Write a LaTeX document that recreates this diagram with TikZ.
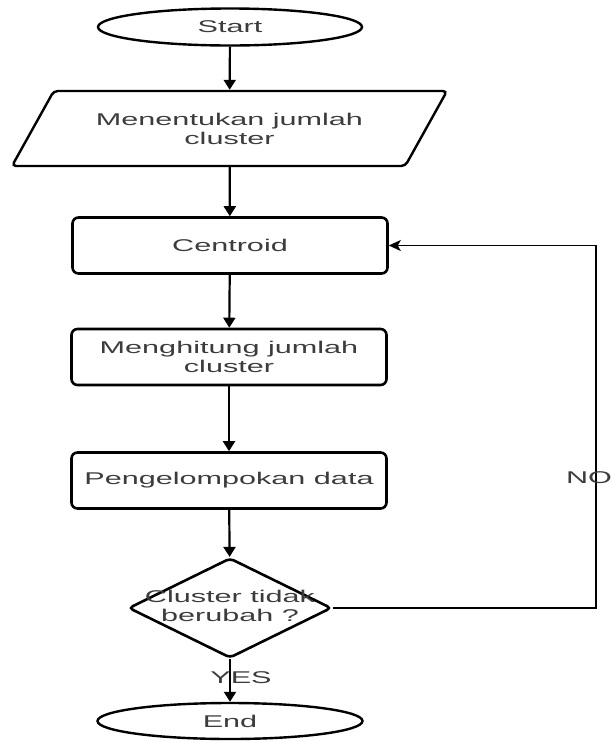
\documentclass[tikz,border=0pt]{standalone}
\usepackage{fontspec}
\newfontfamily\flowfont[FakeStretch=1.8]{Liberation Sans}
\usetikzlibrary{shapes.geometric,arrows.meta}
\definecolor{txtgray}{HTML}{3C3C3C}
\begin{document}
\begin{tikzpicture}[x=1pt,y=-1pt,
  every node/.style={font=\flowfont\fontsize{17}{19}\selectfont, text=txtgray, align=center},
  term/.style={ellipse, draw, line width=2.4pt, minimum width=264, minimum height=37, inner sep=0pt},
  inbox/.style={trapezium, trapezium left angle=37, trapezium right angle=143, trapezium stretches body,
    draw, line width=2.4pt, rounded corners=4pt, minimum width=435, minimum height=75, inner sep=0pt},
  procbox/.style={rectangle, draw, line width=2.6pt, rounded corners=6pt, minimum width=315, minimum height=56, inner sep=0pt},
  decision/.style={diamond, draw, line width=2.6pt, rounded corners=4pt, minimum width=203, minimum height=100, inner sep=0pt},
  arr/.style={-{Triangle[length=10pt,width=12pt]}, line width=2.2pt},
  back/.style={-{Stealth[length=12pt,width=11pt,inset=3pt]}, line width=1.4pt}]
\useasboundingbox (0,0) rectangle (613,742);
\node[term] (start) at (230,27){Start};
\node[inbox] (jumlah) at (229.5,128.5){Menentukan jumlah\\cluster};
\node[procbox] (centroid) at (230,245.5){Centroid};
\node[procbox] (hitung) at (229,357){Menghitung jumlah\\cluster};
\node[procbox] (kelompok) at (229,480.5){Pengelompokan data};
\node[decision] (cek) at (230,608){};
\node (cektext) at (230,606){Cluster tidak\\berubah ?};
\node[term, minimum width=265, minimum height=36] (end) at (230,721){End};
\coordinate (loop) at (596,245.5);
\draw[arr](start) -- (jumlah);
\draw[arr](jumlah) -- (centroid);
\draw[arr](centroid) -- (hitung);
\draw[arr](hitung) -- (kelompok);
\draw[arr](kelompok) -- (cek);
\draw[arr](cek) -- node[pos=0.42, xshift=11pt]{YES} (end);
\draw[back](cek.east) -| node[pos=0.68, xshift=-7pt]{NO} (loop) -- (centroid.east);
\end{tikzpicture}
\end{document}
